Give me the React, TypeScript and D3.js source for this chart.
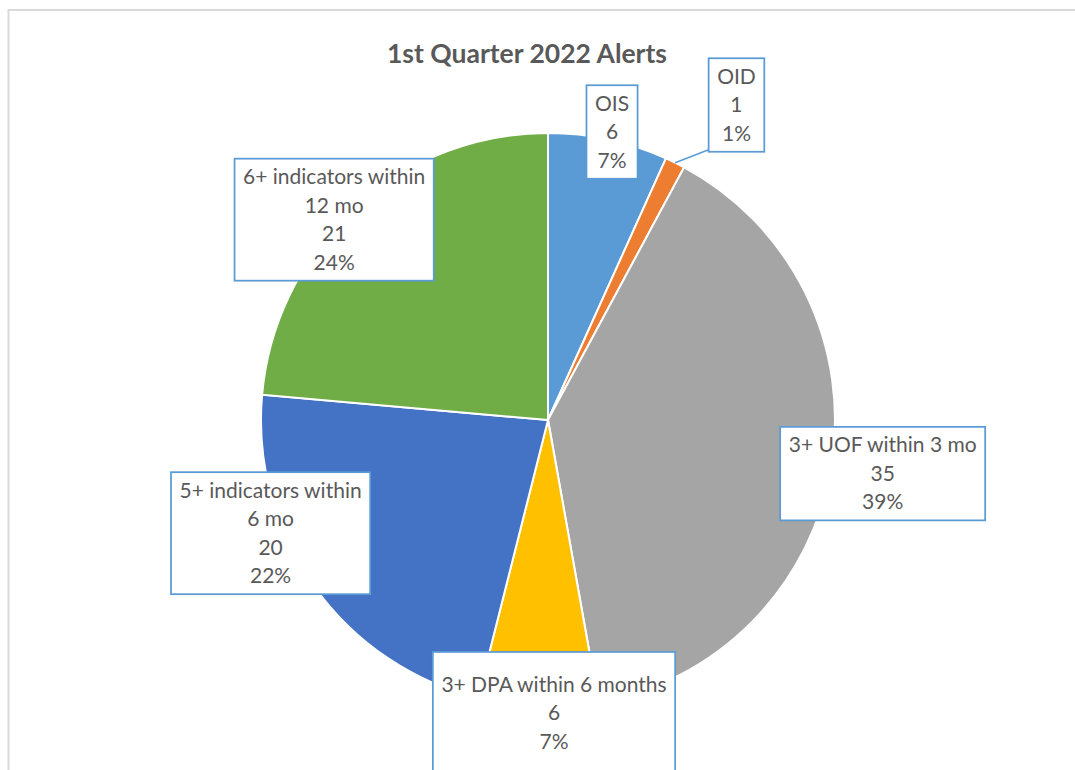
import React, { useRef, useEffect } from "react";
import * as d3 from "d3";

// slices, clockwise from 12 o'clock
const categories = [
  "OIS",
  "OID",
  "3+ UOF within 3 mo",
  "3+ DPA within 6 months",
  "5+ indicators within\n6 mo",
  "6+ indicators within\n12 mo",
];
const counts = [6, 1, 35, 6, 20, 21];
const percents = ["7%", "1%", "39%", "7%", "22%", "24%"];
const colors = ["#5B9BD5", "#ED7D31", "#A5A5A5", "#FFC000", "#4472C4", "#70AD47"];

// where Excel put each label: angle nudge (deg) from slice middle, distance as share of radius
const labelNudge = [0.4, 4.6, 0, -3.2, 13.2, -4.4];
const labelDist = [1.028, 1.279, 1.181, 1.021, 1.044, 1.021];
const labelRows = [3, 3, 3, 4, 4, 4];
const leaderLine = [false, true, false, false, false, false];

const App = () => {
  const svgRef = useRef<SVGSVGElement>(null);

  useEffect(() => {
    const width = 1075;
    const height = 770;
    const cx = 548;
    const cy = 420;
    const radius = 287;
    const lineH = 28.5;
    const textColor = "#595959";
    const font = "Lato, 'Open Sans', sans-serif";

    const svg = d3.select(svgRef.current);
    svg.selectAll("*").remove();

    // chart area frame (clipped on the right and bottom)
    svg
      .append("path")
      .attr("d", `M8.5,${height} V10 H${width}`)
      .attr("fill", "none")
      .attr("stroke", "#d9d9d9")
      .attr("stroke-width", 2);

    svg
      .append("text")
      .attr("x", 527)
      .attr("y", 63)
      .attr("text-anchor", "middle")
      .attr("fill", textColor)
      .style("font-family", font)
      .style("font-weight", "bold")
      .style("font-size", "26.5px")
      .text("1st Quarter 2022 Alerts");

    const data = categories.map((c, i) => ({ name: c, value: counts[i], i }));

    const pie = d3
      .pie<any>()
      .value((d) => d.value)
      .sort(null);
    const arcs = pie(data);

    const arc = d3.arc<any>().innerRadius(0).outerRadius(radius);

    const g = svg.append("g").attr("transform", `translate(${cx},${cy})`);

    g.selectAll("path")
      .data(arcs)
      .join("path")
      .attr("d", arc)
      .attr("fill", (d) => colors[d.data.i])
      .attr("stroke", "#fff")
      .attr("stroke-width", 2);

    const polar = (angle: number, r: number) => [
      r * Math.sin(angle),
      -r * Math.cos(angle),
    ];

    arcs.forEach((a, i) => {
      const mid = (a.startAngle + a.endAngle) / 2;
      const ang = mid + (labelNudge[i] * Math.PI) / 180;
      const [lx, ly] = polar(ang, radius * labelDist[i]);
      const lines = [...categories[i].split("\n"), String(counts[i]), percents[i]];

      const lg = g.append("g").attr("transform", `translate(${lx},${ly})`);
      const rect = lg.append("rect");
      const textNodes = lines.map((t, k) =>
        lg
          .append("text")
          .attr("x", 0)
          .attr("y", (k - (lines.length - 1) / 2) * lineH)
          .attr("dy", "0.35em")
          .attr("text-anchor", "middle")
          .attr("fill", textColor)
          .style("font-family", font)
          .style("font-size", "21px")
          .text(t)
      );
      const maxW = d3.max(textNodes, (n) => (n.node() as SVGTextElement).getComputedTextLength()) || 0;
      const bw = maxW + 17;
      const bh = labelRows[i] * lineH + 8;
      rect
        .attr("x", -bw / 2)
        .attr("y", -bh / 2)
        .attr("width", bw)
        .attr("height", bh)
        .attr("fill", "#fff")
        .attr("stroke", "#5B9BD5")
        .attr("stroke-width", 1.75);

      if (leaderLine[i]) {
        const [sx, sy] = polar(mid, radius);
        g.append("line")
          .attr("x1", sx)
          .attr("y1", sy)
          .attr("x2", lx - bw / 2)
          .attr("y2", ly + bh / 2 - 2)
          .attr("stroke", "#5B9BD5")
          .attr("stroke-width", 1.5);
      }
    });
  }, []);

  return (
    <div style={{ position: "absolute", left: 0, top: 0, background: "#fff" }}>
      <svg ref={svgRef} width={1075} height={770} style={{ display: "block" }}></svg>
    </div>
  );
};

export default App;
